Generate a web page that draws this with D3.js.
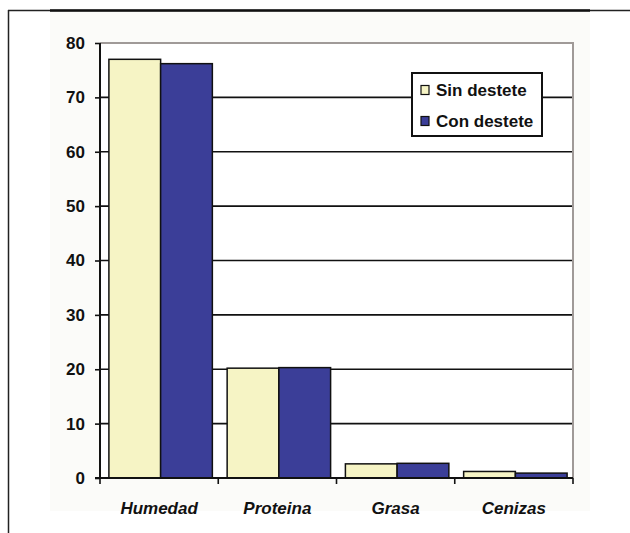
<!DOCTYPE html>
<html>
<head>
<meta charset="utf-8">
<script src="https://cdn.jsdelivr.net/npm/d3@7"></script>
<style>
  html, body { margin: 0; padding: 0; background: #ffffff; }
  svg { display: block; }
  text { font-family: Arial, "Liberation Sans", sans-serif; fill: #111; }
</style>
</head>
<body>
<svg id="chart" width="630" height="533"></svg>
<script>
// Composition of meat (%) by component, with and without weaning
const categories = ["Humedad", "Proteina", "Grasa", "Cenizas"];
const seriesNames = ["Sin destete", "Con destete"];
const sinDestete = [77.0, 20.2, 2.6, 1.2];
const conDestete = [76.2, 20.3, 2.7, 0.9];
const yTicks = [0, 10, 20, 30, 40, 50, 60, 70, 80];

const colors = ["#f6f4c5", "#3b3e98"];
const seriesValues = [sinDestete, conDestete];

const svg = d3.select("#chart");

// outer frame
svg.append("rect").attr("x", 50).attr("y", 11).attr("width", 540).attr("height", 500)
  .attr("fill", "#fbfbf9");
svg.append("line").attr("x1", 8).attr("x2", 630).attr("y1", 10.5).attr("y2", 10.5)
  .attr("stroke", "#222").attr("stroke-width", 1.5);
svg.append("line").attr("x1", 50).attr("x2", 590).attr("y1", 10.5).attr("y2", 10.5)
  .attr("stroke", "#111").attr("stroke-width", 2.5);
svg.append("line").attr("x1", 8.5).attr("x2", 8.5).attr("y1", 10).attr("y2", 533)
  .attr("stroke", "#222").attr("stroke-width", 1.5);

const plotLeft = 100, plotRight = 573, plotTop = 43, plotBottom = 478;

const x = d3.scaleBand().domain(categories).range([plotLeft, plotRight]).paddingInner(0).paddingOuter(0);
const inner = d3.scaleBand().domain(seriesNames).range([0, x.bandwidth()]).paddingInner(0).paddingOuter(0.143);
const y = d3.scaleLinear().domain([0, 80]).range([plotBottom, plotTop]);

// plot background
svg.append("rect").attr("x", plotLeft).attr("y", plotTop)
  .attr("width", plotRight - plotLeft).attr("height", plotBottom - plotTop)
  .attr("fill", "#ffffff");

// gridlines
svg.append("g").selectAll("line").data(yTicks.filter(d => d > 0 && d < 80)).join("line")
  .attr("x1", plotLeft).attr("x2", plotRight)
  .attr("y1", d => y(d)).attr("y2", d => y(d))
  .attr("stroke", "#111").attr("stroke-width", 1.6);

// plot border (top and right)
svg.append("path")
  .attr("d", `M${plotLeft},${y(80)}H${plotRight}V${plotBottom}`)
  .attr("fill", "none").attr("stroke", "#a09a98").attr("stroke-width", 2);

// bars
const groups = svg.append("g").selectAll("g").data(seriesNames).join("g")
  .attr("fill", (d, i) => colors[i]);
groups.each(function (name, si) {
  d3.select(this).selectAll("rect").data(seriesValues[si]).join("rect")
    .attr("x", (d, i) => x(categories[i]) + inner(name) + 1.5)
    .attr("y", d => y(d))
    .attr("width", inner.bandwidth())
    .attr("height", d => y(0) - y(d))
    .attr("stroke", "#111").attr("stroke-width", 1.5);
});

// y axis
const yAxis = d3.axisLeft(y).tickValues(yTicks).tickSize(5).tickPadding(10).tickFormat(d3.format("d"));
const gy = svg.append("g").attr("transform", `translate(${plotLeft},0)`).call(yAxis);
gy.select(".domain").attr("stroke", "#111").attr("stroke-width", 2).attr("d", `M-0,${plotTop}V${plotBottom}`);
gy.selectAll(".tick line").attr("stroke", "#111").attr("stroke-width", 1.6);
gy.selectAll(".tick text").attr("font-size", 17).attr("font-weight", "bold")
  .attr("font-family", "Arial, 'Liberation Sans', sans-serif").attr("fill", "#111");

// x axis
const boundaries = categories.map(c => x(c)).concat([plotRight]);
svg.append("line").attr("x1", plotLeft - 5).attr("x2", plotRight).attr("y1", plotBottom).attr("y2", plotBottom)
  .attr("stroke", "#111").attr("stroke-width", 2);
svg.append("g").selectAll("line").data(boundaries).join("line")
  .attr("x1", d => d).attr("x2", d => d).attr("y1", plotBottom).attr("y2", plotBottom + 6)
  .attr("stroke", "#111").attr("stroke-width", 1.6);
svg.append("g").selectAll("text").data(categories).join("text")
  .attr("x", d => x(d) + x.bandwidth() / 2)
  .attr("y", 514)
  .attr("text-anchor", "middle")
  .attr("font-size", 17).attr("font-weight", "bold").attr("font-style", "italic")
  .text(d => d);

// legend
const lg = svg.append("g").attr("transform", "translate(412,73)");
lg.append("rect").attr("x", 0).attr("y", 0).attr("width", 130).attr("height", 63)
  .attr("fill", "#ffffff").attr("stroke", "#111").attr("stroke-width", 2);
const items = lg.selectAll("g").data(seriesNames).join("g")
  .attr("transform", (d, i) => `translate(9,${17 + i * 31})`);
items.append("rect").attr("x", 0).attr("y", -4.5).attr("width", 8).attr("height", 9)
  .attr("fill", (d, i) => colors[i]).attr("stroke", "#111").attr("stroke-width", 1.2);
items.append("text").attr("x", 15).attr("y", 6)
  .attr("font-size", 17).attr("font-weight", "bold")
  .text(d => d);
</script>
</body>
</html>
